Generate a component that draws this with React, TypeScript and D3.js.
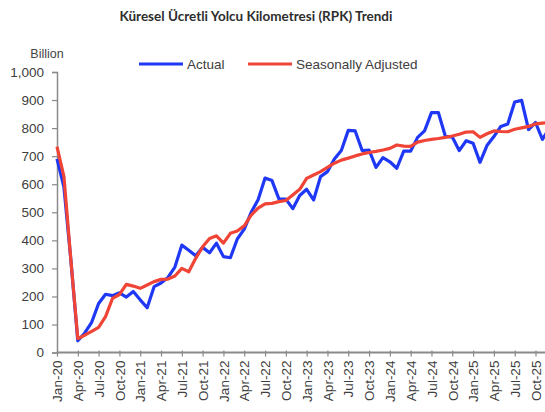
import React, { useEffect, useRef } from "react";
import * as d3 from "d3";

const years = ["20", "21", "22", "23", "24", "25"];
const monthNames = ["Jan", "Feb", "Mar", "Apr", "May", "Jun", "Jul", "Aug", "Sep", "Oct", "Nov", "Dec"];

// Jan-20 .. Dec-25, billion RPK
const actual = [
    690, 590, 330, 42, 70, 108, 175, 208, 203, 213, 198, 218,
    188, 160, 235, 248, 268, 305, 383, 365, 345, 375, 356, 390,
    342, 338, 405, 440, 500, 545, 622, 613, 548, 547, 513, 560,
    582, 544, 627, 645, 690, 720, 792, 790, 720, 722, 660, 695,
    680, 657, 718, 718, 767, 790, 855, 855, 771, 768, 720, 755,
    746, 678, 738, 770, 806, 815, 893, 899, 795, 820, 760, 800,
];
const seasonallyAdjusted = [
    734, 627, 330, 50, 62, 76, 90, 128, 193, 207, 243, 237,
    229, 241, 253, 261, 262, 273, 300, 288, 336, 377, 407, 416,
    390, 425, 433, 452, 490, 515, 530, 532, 538, 542, 562, 582,
    621, 633, 645, 660, 675, 686, 693, 701, 708, 713, 717, 722,
    728, 740, 736, 735, 750, 756, 760, 763, 767, 772, 778, 786,
    787, 767, 780, 790, 788, 787, 796, 801, 806, 815, 818, 820,
];
const yTicks = [0, 100, 200, 300, 400, 500, 600, 700, 800, 900, 1000];

const months = years.flatMap((y) => monthNames.map((m) => `${m}-${y}`));
const quarterIdx = months.map((_, i) => i).filter((i) => i % 3 === 0);

const W = 545;
const H = 412;

const App = () => {
    const ref = useRef<SVGSVGElement>(null);

    useEffect(() => {
        if (!ref.current) return;
        const svg = d3.select(ref.current);
        svg.selectAll("*").remove();

        const x = d3.scaleLinear().domain([0, 69]).range([57, 535.5]);
        const y = d3.scaleLinear().domain([0, 1000]).range([352.6, 72]);

        svg.append("text")
            .attr("x", 256)
            .attr("y", 21)
            .attr("text-anchor", "middle")
            .attr("font-family", "Lato, sans-serif")
            .attr("font-weight", "bold")
            .attr("font-size", 13.5)
            .attr("fill", "#2e2e2e")
            .text("Küresel Ücretli Yolcu Kilometresi (RPK) Trendi");

        svg.append("text")
            .attr("x", 47)
            .attr("y", 58)
            .attr("text-anchor", "middle")
            .attr("font-family", "Liberation Sans, Arial, sans-serif")
            .attr("font-size", 12.5)
            .attr("fill", "#444")
            .text("Billion");

        // y axis
        const yAxis = svg.append("g")
            .attr("transform", "translate(57,0)")
            .call(
                d3.axisLeft(y)
                    .tickValues(yTicks)
                    .tickSize(5)
                    .tickPadding(8)
                    .tickFormat((d) => d3.format(",")(d as number))
            );
        yAxis.select(".domain").attr("stroke", "#8a8a8a").attr("stroke-width", 1.5);
        yAxis.selectAll(".tick line").attr("stroke", "#8a8a8a").attr("stroke-width", 1.2);
        yAxis.selectAll("text")
            .attr("font-family", "Liberation Sans, Arial, sans-serif")
            .attr("font-size", 13.5)
            .attr("fill", "#404040");

        // x axis
        const xAxis = svg.append("g")
            .attr("transform", `translate(0,${y(0)})`)
            .call(
                d3.axisBottom(x)
                    .tickValues(quarterIdx)
                    .tickSizeInner(4)
                    .tickSizeOuter(0)
                    .tickPadding(6)
                    .tickFormat((d) => months[d as number])
            );
        xAxis.select(".domain")
            .attr("d", `M57,0H${W}`)
            .attr("stroke", "#8a8a8a")
            .attr("stroke-width", 2);
        xAxis.selectAll(".tick line").attr("stroke", "#8a8a8a").attr("stroke-width", 1.2).attr("y1", -2);
        xAxis.selectAll("text")
            .attr("font-family", "Liberation Sans, Arial, sans-serif")
            .attr("font-size", 13.5)
            .attr("fill", "#404040")
            .attr("transform", "rotate(-90)")
            .attr("text-anchor", "end")
            .attr("x", -8)
            .attr("y", 0)
            .attr("dy", "0.35em");

        const line = d3.line<number>()
            .x((_, i) => x(i))
            .y((d) => y(d));

        svg.append("path")
            .datum(actual)
            .attr("fill", "none")
            .attr("stroke", "#1f38f5")
            .attr("stroke-width", 3.2)
            .attr("stroke-linejoin", "round")
            .attr("d", line);

        svg.append("path")
            .datum(seasonallyAdjusted)
            .attr("fill", "none")
            .attr("stroke", "#ef4436")
            .attr("stroke-width", 3.2)
            .attr("stroke-linejoin", "round")
            .attr("d", line);

        // legend
        const legend = [
            { name: "Actual", color: "#1f38f5", x: 139 },
            { name: "Seasonally Adjusted", color: "#ef4436", x: 248 },
        ];
        const lg = svg.append("g");
        legend.forEach((l) => {
            lg.append("line")
                .attr("x1", l.x)
                .attr("x2", l.x + 44)
                .attr("y1", 64)
                .attr("y2", 64)
                .attr("stroke", l.color)
                .attr("stroke-width", 3);
            lg.append("text")
                .attr("x", l.x + 48)
                .attr("y", 69)
                .attr("font-family", "Liberation Sans, Arial, sans-serif")
                .attr("font-size", 13.5)
                .attr("fill", "#404040")
                .text(l.name);
        });
    }, []);

    return (
        <svg
            ref={ref}
            width={W}
            height={H}
            style={{ position: "absolute", left: 0, top: 0, background: "#fff" }}
        />
    );
};

export default App;
